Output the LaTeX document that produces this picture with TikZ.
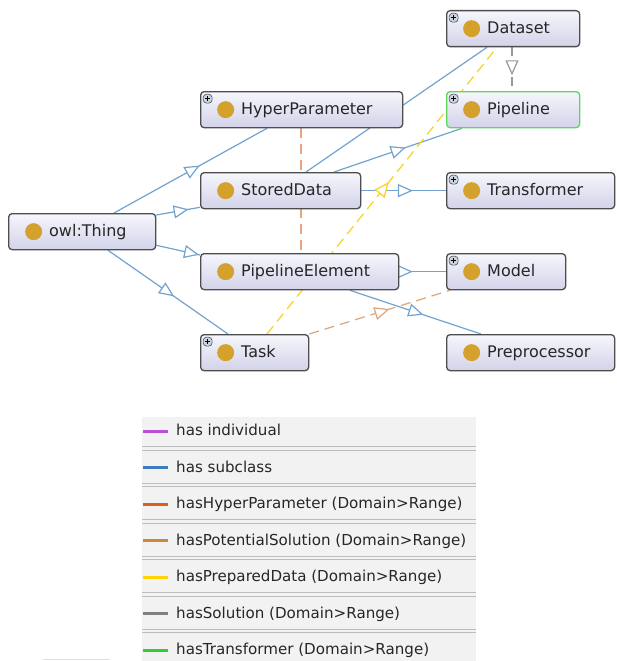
\documentclass[tikz,border=0pt]{standalone}
\usepackage{fontspec}
\setmainfont{DejaVu Sans}
\usetikzlibrary{arrows.meta,decorations.markings,backgrounds}
\definecolor{nodeborder}{HTML}{4D4D4D}
\definecolor{filltop}{HTML}{F6F6FC}
\definecolor{fillbot}{HTML}{D3D3EA}
\definecolor{gold}{HTML}{D4A12C}
\definecolor{plusbg}{HTML}{C9D3E2}
\definecolor{textcol}{HTML}{262626}
\definecolor{pipegreen}{HTML}{5CD65C}
\definecolor{edgeblue}{HTML}{72A3CF}
\definecolor{edgeyellow}{HTML}{F7D62A}
\definecolor{edgehyper}{HTML}{EBA57A}
\definecolor{edgepot}{HTML}{DCA676}
\definecolor{edgegrey}{HTML}{9A9A9A}
\definecolor{legbg}{HTML}{F2F2F2}
\definecolor{legsep}{HTML}{BDBDBD}
\definecolor{legpurple}{HTML}{B94FD9}
\definecolor{legblue}{HTML}{3E7CC0}
\definecolor{leghyper}{HTML}{D6611F}
\definecolor{legpot}{HTML}{CD8540}
\definecolor{legyellow}{HTML}{FFD400}
\definecolor{leggrey}{HTML}{808080}
\definecolor{leggreen}{HTML}{33CC33}
\begin{document}
\begin{tikzpicture}[x=1pt,y=-1pt,
  tri/.tip={Triangle[length=15pt,width=13pt,fill=white]},
  cls/.style={draw=nodeborder, line width=1.3pt, rounded corners=3.5pt,
    top color=filltop, bottom color=fillbot, minimum height=36pt,
    inner sep=0pt, anchor=north west,
    path picture={\fill[gold] ([xshift=25pt]path picture bounding box.west) circle (8.5pt);}},
  clsplus/.style={cls, path picture={
    \fill[gold] ([xshift=25pt]path picture bounding box.west) circle (8.5pt);
    \draw[fill=plusbg, draw=nodeborder, line width=0.6pt]
      ([xshift=2.5pt,yshift=-2.5pt]path picture bounding box.north west) rectangle ++(9pt,-9pt);
    \draw[line width=1.1pt, black]
      ([xshift=4.5pt,yshift=-7pt]path picture bounding box.north west) -- ++(5pt,0pt)
      ([xshift=7pt,yshift=-4.5pt]path picture bounding box.north west) -- ++(0pt,-5pt);}},
  lbl/.style={anchor=base west, xshift=41pt, yshift=-4.5pt,
    font=\fontsize{16}{19}\selectfont, text=textcol, inner sep=0pt},
  sub/.style={color=edgeblue, line width=1.2pt},
  hyperE/.style={color=edgehyper, line width=1.2pt, dash pattern=on 10pt off 6pt},
  prepE/.style={color=edgeyellow, line width=1.3pt, dash pattern=on 10pt off 6pt},
  potE/.style={color=edgepot, line width=1.2pt, dash pattern=on 10pt off 6pt},
  solE/.style={color=edgegrey, line width=1.2pt, dash pattern=on 9pt off 6pt},
  amark/.style={postaction={decorate,decoration={markings,
    mark=at position #1 with {\arrow{tri}}}}},
  legtext/.style={anchor=base west, font=\fontsize{15.1}{18}\selectfont,
    text=textcol, inner sep=0pt},
  swatch/.style={line width=3pt},
  sepline/.style={color=legsep, line width=1pt}
]
\useasboundingbox (0,0) rectangle (616,661);

% ---------------- nodes
\node[clsplus, minimum width=133pt, label={[lbl]west:Dataset}] (dataset) at (446,10) {};
\node[clsplus, minimum width=202pt, label={[lbl]west:HyperParameter}] (hyper) at (200,91) {};
\node[clsplus, draw=pipegreen, minimum width=133pt, label={[lbl]west:Pipeline}] (pipeline) at (446,91) {};
\node[cls, minimum width=160pt, label={[lbl]west:StoredData}] (stored) at (200,172) {};
\node[clsplus, minimum width=168pt, label={[lbl]west:Transformer}] (transformer) at (446,172) {};
\node[cls, minimum width=147pt, label={[lbl]west:owl:Thing}] (thing) at (8,213) {};
\node[cls, minimum width=198pt, label={[lbl]west:PipelineElement}] (pelem) at (200,253) {};
\node[clsplus, minimum width=119pt, label={[lbl]west:Model}] (model) at (446,253) {};
\node[clsplus, minimum width=108pt, label={[lbl]west:Task}] (task) at (200,334) {};
\node[cls, minimum width=168pt, label={[lbl]west:Preprocessor}] (prep) at (446,334) {};

% ---------------- edges (behind the boxes)
\begin{scope}[on background layer]
\fill[white] (0,0) rectangle (616,661);
\draw[sub, amark=0.56] ([xshift=106pt]thing.north west) -- ([xshift=67pt]hyper.south west);
\draw[sub, amark=0.74] ([yshift=-2pt]thing.north east) -- ([yshift=2pt]stored.south west);
\draw[sub, amark=0.98] ([yshift=5pt]thing.south east) -- ([yshift=-2pt]pelem.north west);
\draw[sub, amark=0.55] ([xshift=100pt]thing.south west) -- ([xshift=28pt]task.north west);
\draw[sub] ([xshift=41pt]dataset.south west) -- ([xshift=106pt]stored.north west);
\draw[sub, amark=0.56] ([xshift=134pt]stored.north west) -- ([xshift=16pt]pipeline.south west);
\draw[sub, amark=0.61] (stored.east) -- (transformer.west);
\draw[sub, amark=0.29] (pelem.east) -- (model.west);
\draw[sub, amark=0.56] ([xshift=150pt]pelem.south west) -- ([xshift=35pt]prep.north west);
\draw[hyperE] ([xshift=101pt]hyper.south west) -- ([xshift=101pt]pelem.north west);
\draw[prepE, amark=0.53] ([xshift=67pt]task.north west) -- ([xshift=51pt]dataset.south west);
\draw[potE, amark=0.57] (task.north east) -- ([xshift=4pt]model.south west);
\draw[solE, amark=0.64] ([xshift=66pt]dataset.south west) -- ([xshift=66pt]pipeline.north west);
\end{scope}

% ---------------- legend
\fill[legbg] (142,417) rectangle (476,661);
\foreach \i in {0,...,5}{
  \draw[sepline] (142,{446.7+36.55*\i}) -- (476,{446.7+36.55*\i});
  \draw[sepline] (142,{450+36.55*\i}) -- (476,{450+36.55*\i});
}
\coordinate (l1) at (143,431);
\coordinate (l2) at (143,467.6);
\coordinate (l3) at (143,504.1);
\coordinate (l4) at (143,540.7);
\coordinate (l5) at (143,577.2);
\coordinate (l6) at (143,613.8);
\coordinate (l7) at (143,650.3);
\draw[swatch, legpurple] (l1) -- ++(25pt,0pt);
\draw[swatch, legblue] (l2) -- ++(25pt,0pt);
\draw[swatch, leghyper] (l3) -- ++(25pt,0pt);
\draw[swatch, legpot] (l4) -- ++(25pt,0pt);
\draw[swatch, legyellow] (l5) -- ++(25pt,0pt);
\draw[swatch, leggrey] (l6) -- ++(25pt,0pt);
\draw[swatch, leggreen] (l7) -- ++(25pt,0pt);
\node[legtext] (t1) at ([xshift=33pt,yshift=-4.5pt]l1) {has individual};
\node[legtext] (t2) at ([xshift=33pt,yshift=-4.5pt]l2) {has subclass};
\node[legtext] (t3) at ([xshift=33pt,yshift=-4.5pt]l3) {hasHyperParameter (Domain>Range)};
\node[legtext] (t4) at ([xshift=33pt,yshift=-4.5pt]l4) {hasPotentialSolution (Domain>Range)};
\node[legtext] (t5) at ([xshift=33pt,yshift=-4.5pt]l5) {hasPreparedData (Domain>Range)};
\node[legtext] (t6) at ([xshift=33pt,yshift=-4.5pt]l6) {hasSolution (Domain>Range)};
\node[legtext] (t7) at ([xshift=33pt,yshift=-4.5pt]l7) {hasTransformer (Domain>Range)};

% small fragment bottom left
\draw[color=black!13, line width=1pt] (43,659) -- (110,659);
\end{tikzpicture}
\end{document}
